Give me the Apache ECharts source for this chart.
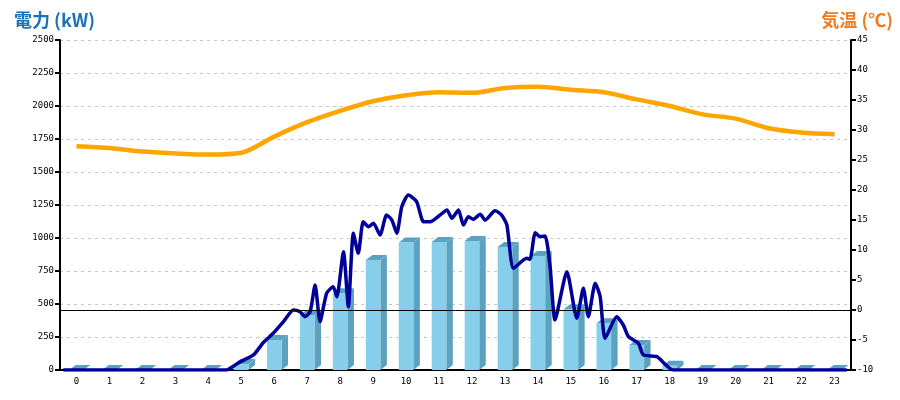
<!DOCTYPE html>
<html>
<head>
<meta charset="utf-8">
<script src="https://cdn.jsdelivr.net/npm/echarts@6/dist/echarts.min.js"></script>
<style>html,body{margin:0;padding:0;background:#fff}#c{width:900px;height:400px}</style>
</head>
<body>
<div id="c"></div>
<script>
const hours = ['0','1','2','3','4','5','6','7','8','9','10','11','12','13','14','15','16','17','18','19','20','21','22','23'];
const barValues = [0,0,0,0,0,45,227,417,581,833,965,970,977,932,864,460,354,189,32,0,0,0,0,0];
const tempValues = [27.3,27.0,26.4,26.1,25.9,26.2,28.9,31.3,33.2,34.8,35.8,36.3,36.2,37.0,37.2,36.7,36.3,35.1,34.0,32.6,31.9,30.3,29.6,29.3];
const demandHours = [-0.4,4.56,4.66,4.96,5.37,5.67,5.97,6.28,6.58,6.78,6.93,7.09,7.24,7.39,7.59,7.79,7.90,8.10,8.25,8.40,8.55,8.70,8.86,9.01,9.21,9.41,9.57,9.72,9.87,10.07,10.32,10.53,10.73,11.03,11.24,11.39,11.59,11.74,11.89,12.04,12.25,12.40,12.70,12.90,13.06,13.26,13.66,13.76,13.92,14.07,14.22,14.37,14.52,14.88,15.18,15.38,15.53,15.74,15.89,16.04,16.39,16.59,16.75,17.05,17.20,17.61,18.11,23.37];
const demandValues = [0,0,13,61,114,208,278,366,455,442,404,442,644,366,581,631,555,896,480,1036,884,1123,1086,1111,1023,1174,1136,1036,1237,1326,1275,1123,1123,1174,1212,1149,1212,1098,1161,1142,1180,1136,1207,1174,1098,770,846,839,1040,1010,1015,783,379,745,392,619,404,657,555,240,404,341,252,202,114,101,0,0];
const leftTicks = [0,250,500,750,1000,1250,1500,1750,2000,2250,2500];
const rightTicks = [-10,-5,0,5,10,15,20,25,30,35,40,45];

const chart = echarts.init(document.getElementById('c'), null, {renderer:'canvas'});
const labelFont = {fontFamily:'DejaVu Sans Mono', fontSize:9, color:'#000'};
const demandData = demandHours.map((h,i)=>[h, demandValues[i]]);

chart.setOption({
  animation:false,
  title:[
    {text:'電力 (kW)', left:9, top:6, textStyle:{color:'#1a73b8', fontSize:18, fontWeight:'bold', fontFamily:'Noto Sans CJK JP'}},
    {text:'気温 (℃)', right:2, top:6, textStyle:{color:'#ee7d22', fontSize:18, fontWeight:'bold', fontFamily:'Noto Sans CJK JP'}}
  ],
  grid:{left:60, right:49, top:40, bottom:30, containLabel:false},
  xAxis:[
    {type:'category', data:hours, boundaryGap:true,
     axisLine:{onZero:false, lineStyle:{color:'#000', width:2}}, axisTick:{show:false},
     axisLabel:Object.assign({margin:7}, labelFont), splitLine:{show:false}},
    {type:'value', min:-0.5, max:23.5, show:false, axisLine:{onZero:false}}
  ],
  yAxis:[
    {type:'value', min:leftTicks[0], max:leftTicks[leftTicks.length-1], interval:250, position:'left',
     axisLine:{show:true, onZero:false, lineStyle:{color:'#000', width:2}},
     axisTick:{show:true, length:5, lineStyle:{color:'#000', width:2}},
     axisLabel:Object.assign({margin:6, formatter:v=>String(v)}, labelFont),
     splitLine:{show:true, lineStyle:{color:'#c8c8c8', type:[3,4], width:1}}},
    {type:'value', min:rightTicks[0], max:rightTicks[rightTicks.length-1], interval:5, position:'right',
     axisLine:{show:true, onZero:false, lineStyle:{color:'#000', width:2}},
     axisTick:{show:true, length:5, lineStyle:{color:'#000', width:2}},
     axisLabel:Object.assign({margin:6, formatter:v=>String(v)}, labelFont),
     splitLine:{show:false}}
  ],
  series:[
    {type:'custom', xAxisIndex:0, yAxisIndex:0, data:barValues.map((v,i)=>[i,v]),
     renderItem:function(params, api){
       const c = api.coord([api.value(0), api.value(1)]);
       const b = api.coord([api.value(0), 0]);
       const hw = 7.3, dx = 6.5, dy = 5;
       const x0 = c[0]-hw, x1 = c[0]+hw, yt = c[1], yb = b[1];
       const dark = '#5ba2c0', light = '#87ceeb';
       return {type:'group', children:[
         {type:'polygon', shape:{points:[[x1,yt],[x1+dx,yt-dy],[x1+dx,yb-dy],[x1,yb]]}, style:{fill:dark}},
         {type:'polygon', shape:{points:[[x0,yt],[x1,yt],[x1+dx,yt-dy],[x0+dx,yt-dy]]}, style:{fill:dark}},
         {type:'rect', shape:{x:x0, y:yt, width:x1-x0, height:yb-yt}, style:{fill:light}}
       ]};
     }, z:2},
    {type:'line', xAxisIndex:1, yAxisIndex:0, data:demandData, showSymbol:false, smooth:0.2,
     lineStyle:{color:'#000099', width:3.5}, z:4},
    {type:'line', xAxisIndex:0, yAxisIndex:1, data:tempValues, showSymbol:false, smooth:0.3,
     lineStyle:{color:'#ffa500', width:4.5}, z:3,
     markLine:{silent:true, symbol:'none', label:{show:false}, lineStyle:{color:'#000', width:1, type:'solid'},
       data:[{yAxis:0}]}}
  ]
});
</script>
</body>
</html>
